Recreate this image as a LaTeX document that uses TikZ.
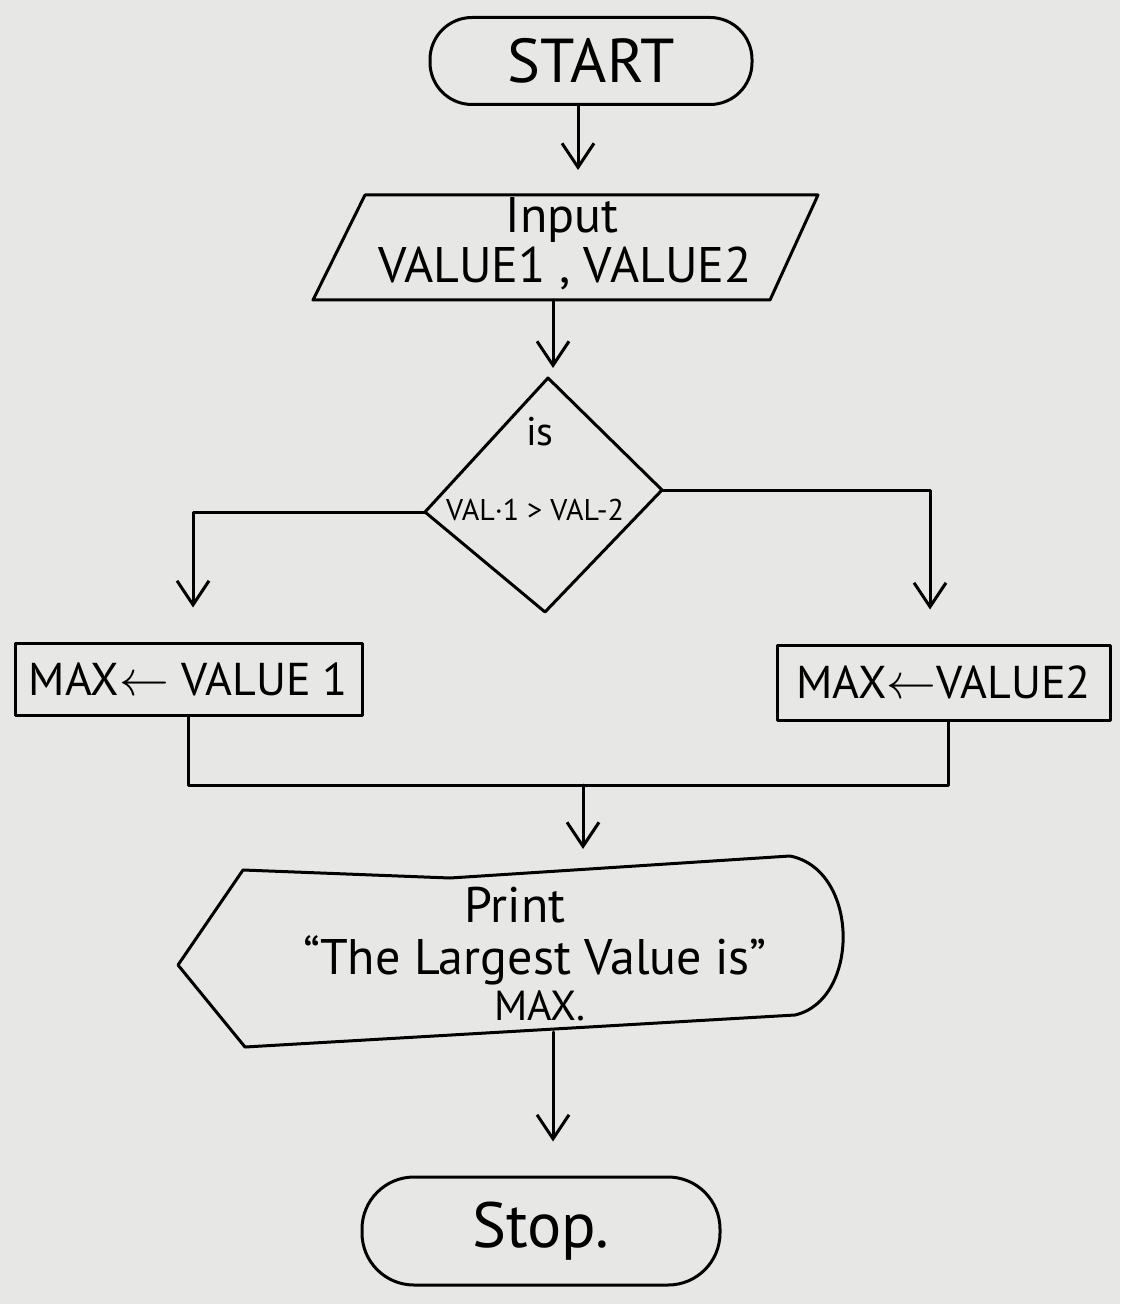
\documentclass[tikz,border=0pt]{standalone}
\usepackage{fontspec}
\setmainfont{PT Sans}
\usetikzlibrary{arrows.meta}
\definecolor{paper}{HTML}{E7E7E5}
\begin{document}
\begin{tikzpicture}[x=0.5pt,y=-0.5pt, line width=1.5pt, line join=round, line cap=round,
  conn/.style={-{Straight Barb[length=12pt,width=16pt,line width=1.5pt]}},
  lbl/.style={inner sep=0pt, align=center},
  terminal/.style={draw, rounded corners=21pt, inner sep=0pt},
  procbox/.style={draw, inner sep=0pt}]
\fill[paper] (0,0) rectangle (1120,1304);
\useasboundingbox (0,0) rectangle (1120,1304);

% START
\node[terminal, minimum width=161pt, minimum height=43.5pt, font=\fontsize{31}{36}\selectfont] (start) at (591,61) {START};

% Input parallelogram
\coordinate (inTL) at (365,195);
\coordinate (inTR) at (818,195);
\coordinate (inBR) at (770,300);
\coordinate (inBL) at (313,300);
\draw (inTL) -- (inTR) -- (inBR) -- (inBL) -- cycle;
\coordinate (inTop) at (578,195);
\coordinate (inBot) at (553,300);
\node[lbl, font=\fontsize{25}{30}\selectfont] (inTxt1) at (562,220) {Input};
\node[lbl, font=\fontsize{25}{30}\selectfont] (inTxt2) at (565,268) {VALUE1 , VALUE2};

% Decision diamond
\coordinate (dT) at (548,378);
\coordinate (dR) at (662,490);
\coordinate (dB) at (545,612);
\coordinate (dL) at (425,512);
\draw (dT) -- (dR) -- (dB) -- (dL) -- cycle;
\node[lbl, font=\fontsize{20}{24}\selectfont] (isTxt) at (540,432) {is};
\node[lbl, font=\fontsize{15}{18}\selectfont] (cmpTxt) at (535,510) {VAL·1 > VAL-2};

% Process boxes
\node[procbox, minimum width=173.5pt, minimum height=36pt, font=\fontsize{23}{28}\selectfont] (left) at (188.5,679) {MAX$\leftarrow$ VALUE 1};
\node[procbox, minimum width=166.5pt, minimum height=37.5pt, font=\fontsize{23}{28}\selectfont] (right) at (943.5,682.5) {MAX$\leftarrow$VALUE2};

% Display (print) shape
\coordinate (pL) at (178,965);
\coordinate (pTL) at (243,870);
\coordinate (pTR) at (790,856);
\coordinate (pBR) at (795,1015);
\coordinate (pBL) at (245,1047);
\draw (pL) -- (pTL) -- (450,878) -- (pTR)
  .. controls (860,870) and (860,1000) .. (pBR) -- (pBL) -- cycle;
\coordinate (pTop) at (583,865);
\coordinate (pBot) at (553,1032);
\node[lbl, font=\fontsize{25}{30}\selectfont] (pr1) at (515,905) {Print};
\node[lbl, font=\fontsize{25}{30}\selectfont] (pr2) at (535,960) {``The Largest Value is''};
\node[lbl, font=\fontsize{21}{26}\selectfont] (pr3) at (540,1006) {MAX.};

% STOP
\node[terminal, rounded corners=26pt, minimum width=179pt, minimum height=54pt, font=\fontsize{32}{38}\selectfont] (stop) at (541,1231) {Stop.};

% connectors
\draw[conn] ([xshift=-6.5pt]start.south) -- ([yshift=12.5pt]inTop);
\draw[conn] (inBot) -- ([yshift=5pt]dT -| inBot);
\coordinate (lDrop) at (193,512);
\coordinate (rDrop) at (930,490);
\draw[conn] (dL) -- (lDrop) -- ([yshift=17pt]left.north -| lDrop);
\draw[conn] (dR) -- (rDrop) -- ([yshift=17pt]right.north -| rDrop);
\coordinate (jL) at (188,785);
\coordinate (jR) at (948,785);
\coordinate (jM) at (583,785);
\draw (left.south -| jL) -- (jL) -- (jR) -- (right.south -| jR);
\draw[conn] (jM) -- ([yshift=8pt]pTop);
\draw[conn] (pBot) -- ([yshift=17pt]stop.north -| pBot);
\end{tikzpicture}
\end{document}
